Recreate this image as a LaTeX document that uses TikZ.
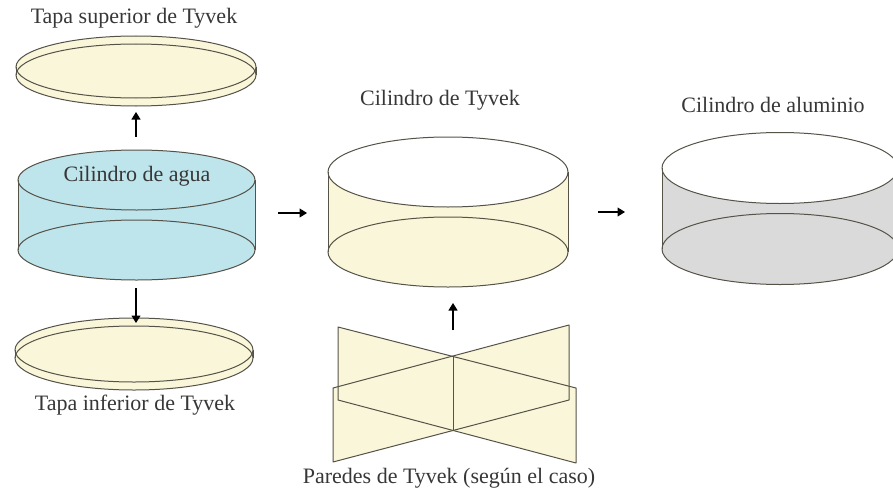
\documentclass[tikz,border=0pt]{standalone}
\usepackage{fontspec}
\setmainfont{Liberation Serif}
\usetikzlibrary{arrows.meta}
\definecolor{agua}{RGB}{190,228,236}
\definecolor{tyvek}{RGB}{250,246,218}
\definecolor{alu}{RGB}{218,218,218}
\definecolor{contorno}{RGB}{85,82,72}
\definecolor{texto}{RGB}{55,55,55}
\tikzset{
  rotulo/.style={text=texto, font=\fontsize{22}{25}\selectfont, inner sep=0pt},
  borde/.style={draw=contorno, line width=1pt},
  flecha/.style={-{Triangle[length=7.5pt,width=9pt]}, line width=1.1pt, draw=black},
}
% cylinder: #1 cx, #2 top cy, #3 bottom cy, #4 rx, #5 ry, #6 side fill, #7 top fill
\newcommand{\cilindro}[7]{%
  \fill[#6] (#1,#3) ellipse [x radius=#4, y radius=#5];
  \fill[#6] (#1-#4,#2) rectangle (#1+#4,#3);
  \fill[#7] (#1,#2) ellipse [x radius=#4, y radius=#5];
  \draw[borde] (#1,#3) ellipse [x radius=#4, y radius=#5];
  \draw[borde] (#1-#4,#2) -- (#1-#4,#3) (#1+#4,#2) -- (#1+#4,#3);
  \draw[borde] (#1,#2) ellipse [x radius=#4, y radius=#5];
}
\begin{document}
\begin{tikzpicture}[x=1pt,y=-1pt]
\useasboundingbox (0,0) rectangle (893,495);
\clip (0,0) rectangle (893,495);

% top lid
\node[rotulo] (tsup) at (134,18) {Tapa superior de Tyvek};
\cilindro{136}{67}{75}{120}{31}{tyvek}{tyvek}

% water cylinder
\cilindro{136.5}{180}{250}{118.5}{30}{agua}{agua}
\node[rotulo] (agua) at (137,176) {Cilindro de agua};

% bottom lid
\cilindro{134}{350}{358}{119}{32}{tyvek}{tyvek}
\node[rotulo] (tinf) at (135,405) {Tapa inferior de Tyvek};

% Tyvek cylinder
\node[rotulo] (ctyvek) at (440,100) {Cilindro de Tyvek};
\cilindro{448}{172}{252}{120}{35}{tyvek}{white}

% aluminium cylinder
\node[rotulo] (calu) at (773,105) {Cilindro de aluminio};
\cilindro{780}{168}{249}{118}{35.5}{alu}{white}

% Tyvek walls crossing in a bow tie
\coordinate (w1) at (338,327);
\coordinate (w2) at (453,357);
\coordinate (w3) at (576,388);
\coordinate (w4) at (576,463);
\coordinate (w5) at (453,430);
\coordinate (w6) at (338,400);
\coordinate (v1) at (333,388);
\coordinate (v2) at (569,325);
\coordinate (v3) at (569,400);
\coordinate (v4) at (333,462);
\fill[tyvek] (w1) -- (w3) -- (w4) -- (w6) -- cycle;
\fill[tyvek] (v1) -- (v2) -- (v3) -- (v4) -- cycle;
\draw[borde, line join=round] (w1) -- (w3) -- (w4) -- (w6) -- cycle;
\draw[borde, line join=round] (v1) -- (v2) -- (v3) -- (v4) -- cycle;
\draw[borde] (w2) -- (w5);
\node[rotulo] (paredes) at (449,478) {Paredes de Tyvek (según el caso)};

% arrows
\coordinate (a1s) at (136,137); \coordinate (a1e) at (136,112);
\coordinate (a2s) at (136,288); \coordinate (a2e) at (136,323);
\coordinate (a3s) at (278,213); \coordinate (a3e) at (307,213);
\coordinate (a4s) at (453,330); \coordinate (a4e) at (453,303);
\coordinate (a5s) at (598,212); \coordinate (a5e) at (625,212);
\draw[flecha] (a1s) -- (a1e);
\draw[flecha] (a2s) -- (a2e);
\draw[flecha] (a3s) -- (a3e);
\draw[flecha] (a4s) -- (a4e);
\draw[flecha] (a5s) -- (a5e);
\end{tikzpicture}
\end{document}
